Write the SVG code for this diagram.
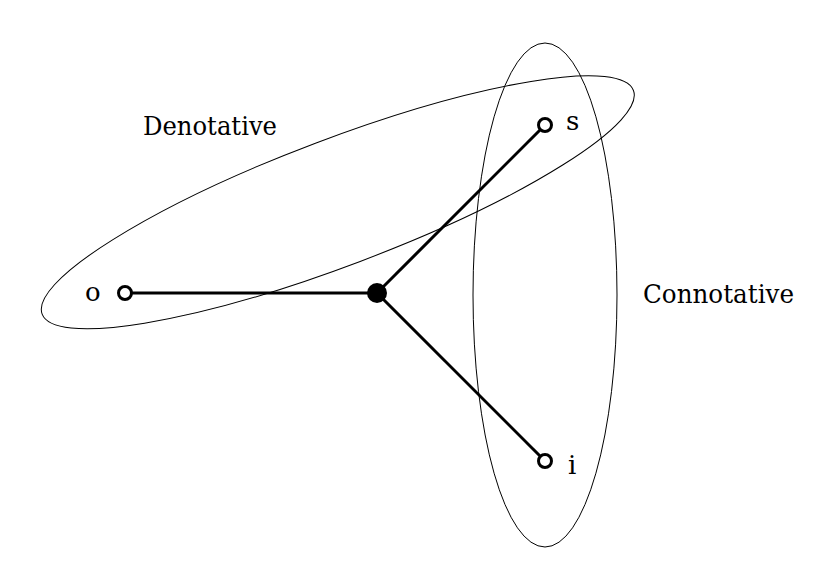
<svg xmlns="http://www.w3.org/2000/svg" width="840" height="588" viewBox="0 0 840 588">
<style>
.grp{fill:none;stroke:#000;stroke-width:1}
.edge{stroke:#000;stroke-width:3;fill:none}
.open{fill:#fff;stroke:#000;stroke-width:3}
.lbl{font-family:"DejaVu Serif","Liberation Serif",serif;font-size:26px;fill:#000}
</style>
<rect width="840" height="588" fill="#fff"/>
<g id="groups">
<ellipse class="grp" cx="337.8" cy="202.3" rx="316.1" ry="63.2" transform="rotate(-20.72 337.8 202.3)"/>
<ellipse class="grp" cx="545" cy="295" rx="72" ry="252"/>
<text class="lbl" x="143" y="134.5" textLength="134" lengthAdjust="spacingAndGlyphs">Denotative</text>
<text class="lbl" x="643" y="303" textLength="151" lengthAdjust="spacingAndGlyphs">Connotative</text>
</g>
<g id="connectors">
<line class="edge" x1="125" y1="293" x2="377" y2="293"/>
<line class="edge" x1="377" y1="293" x2="545" y2="125"/>
<line class="edge" x1="377" y1="293" x2="545" y2="461"/>
</g>
<g id="node-center"><circle cx="377" cy="293" r="10" fill="#000"/></g>
<g id="node-o"><circle class="open" cx="125" cy="293" r="6.5"/><text class="lbl" x="85" y="301">o</text></g>
<g id="node-s"><circle class="open" cx="545" cy="125" r="6.5"/><text class="lbl" x="566" y="130">s</text></g>
<g id="node-i"><circle class="open" cx="545" cy="461" r="6.5"/><text class="lbl" x="568" y="474">i</text></g>
</svg>
